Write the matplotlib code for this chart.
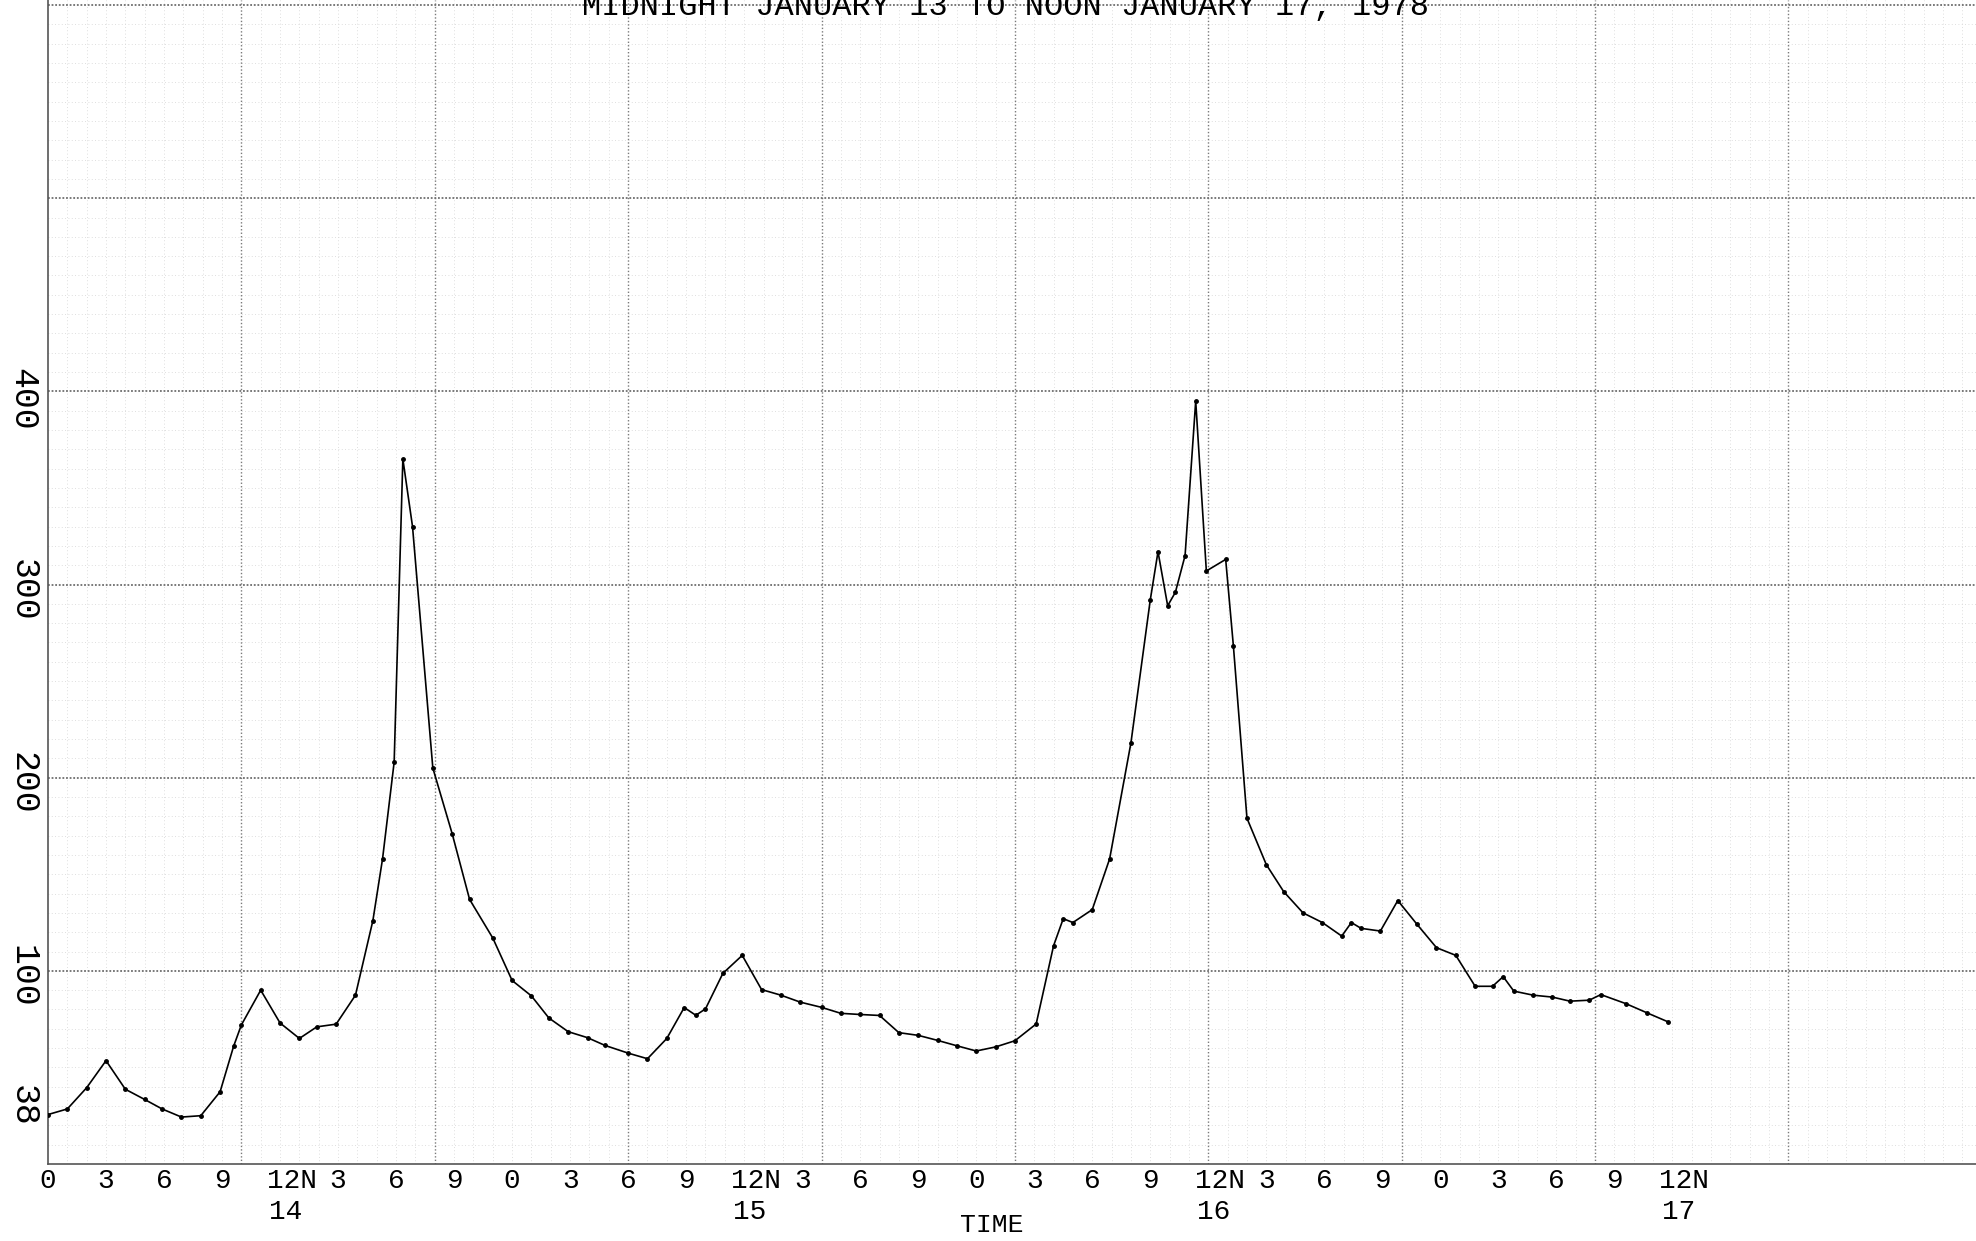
import numpy as np
import matplotlib
matplotlib.use("Agg")
import matplotlib.pyplot as plt
import matplotlib.transforms as mtransforms

plt.rcParams['font.family'] = ['Liberation Mono', 'DejaVu Sans Mono']

# hours from the first midnight, and the plotted values
hours = [0, 1.0, 2.0, 3.0, 4.0, 5.0, 5.9, 6.9, 7.9, 8.9, 9.6, 10.0, 11.0, 12.0,
         13.0, 13.9, 14.9, 15.9, 16.8, 17.3, 17.9, 18.35, 18.85, 19.9, 20.9,
         21.8, 23.0, 24.0, 25.0, 25.9, 26.9, 27.9, 28.8, 30.0, 31.0, 32.0, 32.9,
         33.5, 34.0, 34.9, 35.9, 36.9, 37.9, 38.9, 40.0, 41.0, 42.0, 43.0, 44.0,
         45.0, 46.0, 47.0, 48.0, 49.0, 50.0, 51.1, 52.0, 52.5, 53.0, 54.0, 54.9,
         56.0, 57.0, 57.4, 57.9, 58.3, 58.8, 59.35, 59.9, 60.9, 61.3, 62.0, 63.0,
         63.9, 64.9, 65.9, 66.9, 67.4, 67.9, 68.9, 69.8, 70.8, 71.8, 72.8, 73.8,
         74.7, 75.25, 75.8, 76.8, 77.8, 78.7, 79.7, 80.3, 81.6, 82.7, 83.75]
values = [25.6, 28.5, 39.5, 53.5, 38.7, 33.4, 28.5, 24.3, 25, 37.4, 61, 72, 90, 73,
          65, 71, 72.4, 87.4, 126, 158, 208, 365, 330, 205, 171,
          137, 117, 95, 87, 75.6, 68.5, 65.4, 61.4, 57.4, 54.5, 65, 81,
          77, 80.3, 98.7, 108, 90.3, 87.4, 83.8, 81.1, 78, 77.4, 76.9, 68,
          66.6, 64, 61.2, 58.5, 60.6, 63.8, 72.5, 113, 127, 125, 131.7, 158,
          218, 292, 317, 289, 296, 315, 395, 307, 313, 268, 179, 155,
          141, 130, 125, 118, 125, 122, 120.6, 136.4, 124, 112, 108, 92,
          92, 97, 89.5, 87.4, 86.4, 84.3, 84.8, 87.7, 83, 78.2, 73.7]

xtick_pos = list(range(0, 85, 3))
xtick_labels = ["0", "3", "6", "9", "12N", "3", "6", "9",
                "0", "3", "6", "9", "12N", "3", "6", "9",
                "0", "3", "6", "9", "12N", "3", "6", "9",
                "0", "3", "6", "9", "12N"]
day_pos = [12, 36, 60, 84]
day_labels = ["14", "15", "16", "17"]
ytick_pos = [30, 97, 197, 297, 396]
ytick_labels = ["38", "100", "200", "300", "400"]

fig = plt.figure(figsize=(19.76, 12.41), dpi=100)
ax = fig.add_axes([48 / 1976, 77 / 1241, 1928 / 1976, 1164 / 1241])
ax.set_xlim(0, 99.7)
ax.set_ylim(0, 602.6)

# graph paper grid
for gx in np.arange(1, 100, 1):
    if gx % 10:
        ax.axvline(gx, color="#d4d4d4", lw=0.6, ls=(0, (1, 3)), zorder=0)
for gy in np.arange(10, 610, 10):
    if gy % 100:
        ax.axhline(gy, color="#d4d4d4", lw=0.6, ls=(0, (1, 3)), zorder=0)
for gx in np.arange(10, 100, 10):
    ax.axvline(gx, color="#7a7a7a", lw=1.0, ls=(0, (1, 1.5)), zorder=1)
for gy in np.arange(100, 610, 100):
    ax.axhline(gy, color="#6e6e6e", lw=1.3, ls=(0, (1, 1)), zorder=1)

ax.plot(hours, values, color="black", lw=1.2, marker="o", ms=2.5, zorder=3)

for s in ["top", "right"]:
    ax.spines[s].set_visible(False)
for s in ["left", "bottom"]:
    ax.spines[s].set_color("#555555")
    ax.spines[s].set_linestyle((0, (1, 1)))
    ax.spines[s].set_linewidth(1.2)

ax.set_xticks(xtick_pos)
ax.set_xticklabels(xtick_labels, fontsize=20)
ax.tick_params(axis="x", length=0, pad=3)
shift = mtransforms.ScaledTranslation(0.12, 0, fig.dpi_scale_trans)
for lab in ax.get_xticklabels():
    if lab.get_text() == "12N":
        lab.set_transform(lab.get_transform() + shift)
ax.set_yticks(ytick_pos)
ax.set_yticklabels(ytick_labels, fontsize=25, rotation=-90, va="center")
ax.tick_params(axis="y", length=0, pad=6)

trans = mtransforms.blended_transform_factory(ax.transData, fig.transFigure)
for p, lab in zip(day_pos, day_labels):
    ax.text(p + 0.3, 1 - 1212 / 1241, lab, transform=trans, fontsize=20,
            ha="center", va="center")

fig.text(992 / 1976, 1 - 1225 / 1241, "TIME", fontsize=19, ha="center", va="center")
fig.text(1005 / 1976, 1 - 15 / 1241, "MIDNIGHT JANUARY 13 TO NOON JANUARY 17, 1978",
         fontsize=23, ha="center", va="baseline")

fig.savefig("out.png", dpi=100)
